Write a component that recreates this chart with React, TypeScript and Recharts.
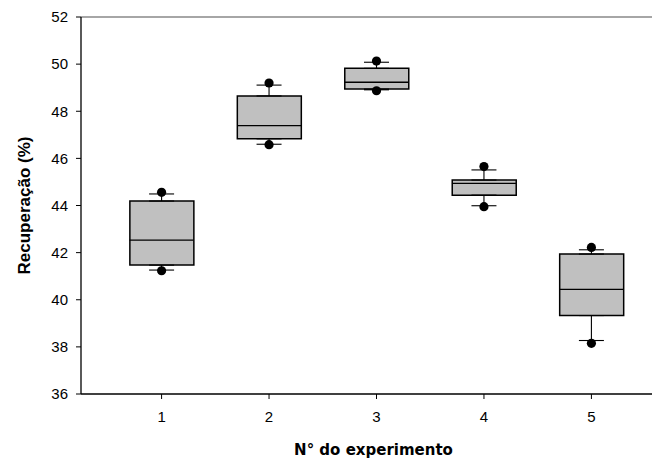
import {
  Bar,
  ComposedChart,
  ErrorBar,
  ReferenceLine,
  Scatter,
  XAxis,
  YAxis,
} from 'recharts';

// N° do experimento
const experiments = [1, 2, 3, 4, 5];

// box plot values (Recuperação, %)
const q1Values = [41.47, 46.83, 48.94, 44.44, 39.33];
const medianValues = [42.53, 47.39, 49.23, 44.94, 40.44];
const q3Values = [44.19, 48.65, 49.82, 45.08, 41.94];
const whiskerLow = [41.26, 46.6, 48.91, 43.99, 38.27];
const whiskerHigh = [44.49, 49.11, 50.08, 45.51, 42.12];
const pointLow = [41.23, 46.58, 48.87, 43.95, 38.15];
const pointHigh = [44.56, 49.2, 50.13, 45.65, 42.22];

const yTicks = [36, 38, 40, 42, 44, 46, 48, 50, 52];

const BOX_WIDTH = 64;

const boxData = experiments.map((x, i) => ({
  x,
  y: medianValues[i],
  box: [q1Values[i], q3Values[i]],
}));

const upperWhiskers = experiments.map((x, i) => ({
  x,
  y: q3Values[i],
  err: [0, whiskerHigh[i] - q3Values[i]],
}));

const lowerWhiskers = experiments.map((x, i) => ({
  x,
  y: q1Values[i],
  err: [q1Values[i] - whiskerLow[i], 0],
}));

const medianData = experiments.map((x, i) => ({ x, y: medianValues[i] }));
const lowPoints = experiments.map((x, i) => ({ x, y: pointLow[i] }));
const highPoints = experiments.map((x, i) => ({ x, y: pointHigh[i] }));

const tickStyle = { fill: '#000', fontSize: 15, fontFamily: 'Liberation Sans, Arial, sans-serif' };

function EmptyShape() {
  return <g />;
}

function MedianShape(props: { cx?: number; cy?: number }) {
  const { cx = 0, cy = 0 } = props;
  return (
    <line x1={cx - BOX_WIDTH / 2} x2={cx + BOX_WIDTH / 2} y1={cy} y2={cy} stroke='#000' strokeWidth={1.3} />
  );
}

function DotShape(props: { cx?: number; cy?: number }) {
  const { cx = 0, cy = 0 } = props;
  return <circle cx={cx} cy={cy} r={4.6} fill='#000' />;
}

export default function App() {
  return (
    <div style={{ width: 652, height: 451, overflow: 'hidden' }}>
      <ComposedChart
        width={664}
        height={451}
        data={boxData}
        margin={{ top: 9, right: 0, bottom: 35, left: 0 }}
      >
        <ReferenceLine y={52} stroke='#888' strokeWidth={1.5} />

        <XAxis
          dataKey='x'
          type='number'
          domain={[0.25, 5.75]}
          ticks={experiments}
          allowDataOverflow
          height={30}
          tickSize={5}
          tickMargin={12}
          tick={tickStyle}
          axisLine={{ stroke: '#000', strokeWidth: 1.3 }}
          tickLine={{ stroke: '#000' }}
          label={{
            value: 'N° do experimento',
            position: 'bottom',
            offset: 20,
            dx: -3,
            style: { fontFamily: 'DejaVu Sans, Verdana, sans-serif', fontWeight: 'bold', fontSize: 15, fill: '#000' },
          }}
        />

        <YAxis
          dataKey='y'
          type='number'
          domain={[36, 52]}
          ticks={yTicks}
          allowDataOverflow
          width={73}
          tickSize={5}
          tickMargin={8}
          tick={tickStyle}
          axisLine={{ stroke: '#000', strokeWidth: 1.3 }}
          tickLine={{ stroke: '#000' }}
          label={{
            value: 'Recuperação (%)',
            angle: -90,
            position: 'insideLeft',
            offset: 16,
            style: {
              textAnchor: 'middle',
              fontFamily: 'Liberation Sans, Arial, sans-serif',
              fontWeight: 'bold',
              fontSize: 17,
              fill: '#000',
            },
          }}
        />

        <Scatter data={upperWhiskers} shape={EmptyShape} isAnimationActive={false}>
          <ErrorBar dataKey='err' direction='y' width={12.5} stroke='#000' strokeWidth={1.1} isAnimationActive={false} />
        </Scatter>
        <Scatter data={lowerWhiskers} shape={EmptyShape} isAnimationActive={false}>
          <ErrorBar dataKey='err' direction='y' width={12.5} stroke='#000' strokeWidth={1.1} isAnimationActive={false} />
        </Scatter>

        <Bar
          dataKey='box'
          barSize={BOX_WIDTH}
          fill='#c0c0c0'
          stroke='#000'
          strokeWidth={1.5}
          isAnimationActive={false}
        />

        <Scatter data={medianData} shape={MedianShape} isAnimationActive={false} />
        <Scatter data={lowPoints} shape={DotShape} isAnimationActive={false} />
        <Scatter data={highPoints} shape={DotShape} isAnimationActive={false} />
      </ComposedChart>
    </div>
  );
}
